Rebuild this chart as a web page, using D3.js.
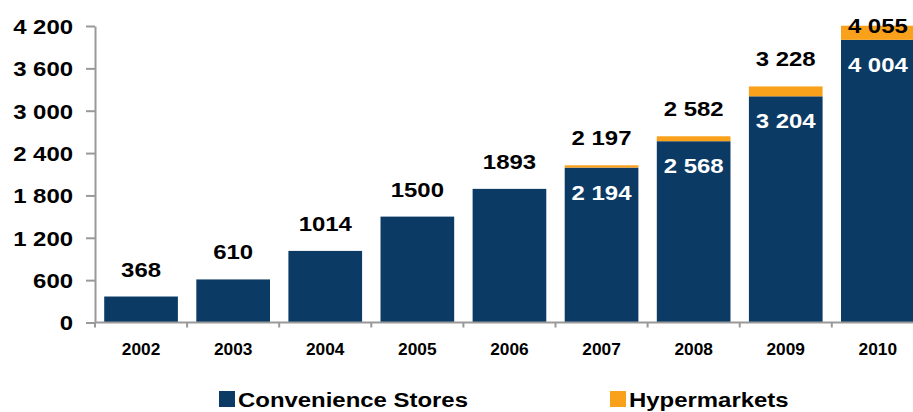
<!DOCTYPE html>
<html>
<head>
<meta charset="utf-8">
<script src="https://cdn.jsdelivr.net/npm/d3@7"></script>
<style>
  body { margin: 0; background: #fff; }
  svg { display: block; font-family: "Liberation Sans", Arial, sans-serif; font-weight: bold; }
</style>
</head>
<body>
<svg id="chart" width="913" height="412"></svg>
<script>
// ---- data ----
var years = ["2002", "2003", "2004", "2005", "2006", "2007", "2008", "2009", "2010"];
var convenience = [368, 610, 1014, 1500, 1893, 2194, 2568, 3204, 4004];
// hypermarket segment heights as drawn (not to scale with the labels in the original)
var hypermarkets = [0, 0, 0, 0, 0, 33, 70, 140, 200];
var topLabels = ["368", "610", "1014", "1500", "1893", "2 197", "2 582", "3 228", "4 055"];
var innerLabels = ["", "", "", "", "", "2 194", "2 568", "3 204", "4 004"];
var yTicks = [0, 600, 1200, 1800, 2400, 3000, 3600, 4200];

var navy = "#0b3a65";
var orange = "#f9a11b";
var stretch = 1.14;
var fontSize = "21px";

var svg = d3.select("#chart");

var x = d3.scaleBand()
  .domain(years)
  .range([95, 95 + 9 * 92.1])
  .paddingInner(0.2)
  .paddingOuter(0.1);

var y = d3.scaleLinear()
  .domain([0, 4200])
  .range([322.5, 26]);

var fmt = function(d) { return d3.format(",")(d).replace(/,/g, " "); };

// ---- bars ----
var rows = years.map(function(yr, i) {
  return { year: yr, cs: convenience[i], hm: hypermarkets[i], top: topLabels[i], inner: innerLabels[i] };
});

svg.selectAll(".cs")
  .data(rows)
  .enter()
  .append("rect")
    .attr("x", d => x(d.year))
    .attr("y", d => y(d.cs))
    .attr("width", x.bandwidth())
    .attr("height", d => y(0) - y(d.cs))
    .attr("fill", navy);

svg.selectAll(".hm")
  .data(rows.filter(d => d.hm > 0))
  .enter()
  .append("rect")
    .attr("x", d => x(d.year))
    .attr("y", d => y(d.cs + d.hm))
    .attr("width", x.bandwidth())
    .attr("height", d => y(d.cs) - y(d.cs + d.hm))
    .attr("fill", orange);

// ---- axes ----
var yAxis = svg.append("g")
  .attr("transform", "translate(95,0)")
  .call(d3.axisLeft(y).tickValues(yTicks).tickSize(9).tickSizeOuter(0).tickFormat(fmt));

yAxis.selectAll("text")
  .attr("x", 0)
  .attr("dy", "0.35em")
  .attr("transform", `translate(-22,0) scale(${stretch},1)`)
  .attr("fill", "#000")
  .style("font-size", fontSize)
  .style("font-family", "Liberation Sans, Arial, sans-serif")
  .style("font-weight", "bold");

var xAxis = svg.append("g")
  .attr("transform", `translate(0,${y(0)})`)
  .call(d3.axisBottom(x).tickSize(0).tickFormat(""));
xAxis.select(".domain").attr("d", `M95,0H913`);

// band boundary ticks
svg.append("g")
  .selectAll("line")
  .data(years)
  .enter()
  .append("line")
    .attr("x1", d => x(d) - x.step() * 0.1)
    .attr("x2", d => x(d) - x.step() * 0.1)
    .attr("y1", y(0))
    .attr("y2", y(0) + 5)
    .attr("stroke", "#999")
    .attr("stroke-width", 2);

svg.selectAll(".domain, .tick line")
  .attr("stroke", "#999")
  .attr("stroke-width", 2);

svg.append("g")
  .selectAll("text")
  .data(years)
  .enter()
  .append("text")
    .attr("transform", d => `translate(${x(d) + x.bandwidth() / 2},355) scale(1.05,1)`)
    .attr("text-anchor", "middle")
    .style("font-size", "16.5px")
    .text(d => d);

// ---- labels ----
svg.append("g")
  .selectAll("text")
  .data(rows)
  .enter()
  .append("text")
    .attr("transform", d => `translate(${x(d.year) + x.bandwidth() / 2},${Math.max(y(d.cs + d.hm) - 20, 33)}) scale(${stretch},1)`)
    .attr("text-anchor", "middle")
    .style("font-size", fontSize)
    .attr("fill", "#000")
    .text(d => d.top);

svg.append("g")
  .selectAll("text")
  .data(rows.filter(d => d.inner))
  .enter()
  .append("text")
    .attr("transform", d => `translate(${x(d.year) + x.bandwidth() / 2},${y(d.cs) + 32}) scale(${stretch},1)`)
    .attr("text-anchor", "middle")
    .style("font-size", fontSize)
    .attr("fill", "#fff")
    .text(d => d.inner);

// ---- legend ----
var legendItems = [
  { name: "Convenience Stores", color: navy, x: 219 },
  { name: "Hypermarkets", color: orange, x: 610 }
];

var legend = svg.append("g")
  .selectAll("g")
  .data(legendItems)
  .enter()
  .append("g")
    .attr("transform", d => `translate(${d.x},391)`);

legend.append("rect")
  .attr("width", 16)
  .attr("height", 16)
  .attr("fill", d => d.color);

legend.append("text")
  .attr("transform", `translate(19,16) scale(${stretch},1)`)
  .style("font-size", fontSize)
  .text(d => d.name);
</script>
</body>
</html>
